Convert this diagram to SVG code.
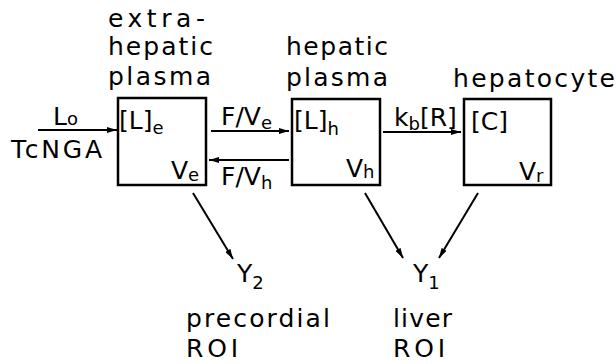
<svg xmlns="http://www.w3.org/2000/svg" width="616" height="364" viewBox="0 0 616 364">
<defs>
<marker id="ah" viewBox="0 0 10 6" refX="10" refY="3" markerWidth="10" markerHeight="6" markerUnits="userSpaceOnUse" orient="auto">
<path d="M0,0 L10,3 L0,6 Z" fill="#000"/>
</marker>
</defs>
<style>
text{font-family:"DejaVu Sans","Liberation Sans",sans-serif;font-size:25px;fill:#000}
.sub{font-size:18px}
.box{fill:#fff;stroke:#000;stroke-width:2.5}
.ln{stroke:#000;stroke-width:2;fill:none;marker-end:url(#ah)}
</style>
<rect width="616" height="364" fill="#fff"/>
<g id="extrahepatic">
<text x="108" y="27" textLength="97">extra-</text>
<text x="108" y="55" textLength="105">hepatic</text>
<text x="108" y="85" textLength="103">plasma</text>
<rect class="box" x="118" y="98" width="88" height="87"/>
<text x="119" y="129">[L]<tspan class="sub" dy="5">e</tspan></text>
<text x="171" y="179">V<tspan class="sub" dy="2">e</tspan></text>
</g>
<g id="hepatic">
<text x="286" y="55" textLength="102">hepatic</text>
<text x="286" y="86" textLength="102">plasma</text>
<rect class="box" x="292" y="99" width="88" height="86"/>
<text x="294" y="129">[L]<tspan class="sub" dy="6">h</tspan></text>
<text x="346" y="177">V<tspan class="sub" dy="1">h</tspan></text>
</g>
<g id="hepatocyte">
<text x="453" y="87" textLength="162">hepatocyte</text>
<rect class="box" x="464" y="99" width="87" height="86"/>
<text x="471" y="130">[C]</text>
<text x="519" y="180">V<tspan class="sub" dy="2">r</tspan></text>
</g>
<g id="y2">
<text x="237" y="282">Y<tspan class="sub" dy="7">2</tspan></text>
<text x="186" y="327" textLength="144">precordial</text>
<text x="186" y="357" textLength="52">ROI</text>
</g>
<g id="y1">
<text x="413" y="282">Y<tspan class="sub" dy="7">1</tspan></text>
<text x="393" y="327" textLength="59">liver</text>
<text x="393" y="357" textLength="52">ROI</text>
</g>
<g id="connectors">
<line class="ln" x1="38" y1="130" x2="117" y2="130"/>
<text x="53" y="125">L<tspan class="sub">o</tspan></text>
<text x="11" y="158" textLength="91">TcNGA</text>
<line class="ln" x1="211" y1="131" x2="289" y2="131"/>
<text x="221" y="125">F/V<tspan class="sub" dy="4">e</tspan></text>
<line class="ln" x1="289" y1="160" x2="209" y2="160"/>
<text x="221" y="185">F/V<tspan class="sub" dy="4">h</tspan></text>
<line class="ln" x1="383" y1="132" x2="461" y2="132"/>
<text x="394" y="126">k<tspan class="sub" dy="4">b</tspan><tspan dy="-4">[R]</tspan></text>
<line class="ln" x1="193" y1="193" x2="233" y2="259"/>
<line class="ln" x1="365" y1="193" x2="403" y2="258"/>
<line class="ln" x1="478" y1="193" x2="439" y2="258"/>
</g>
</svg>
